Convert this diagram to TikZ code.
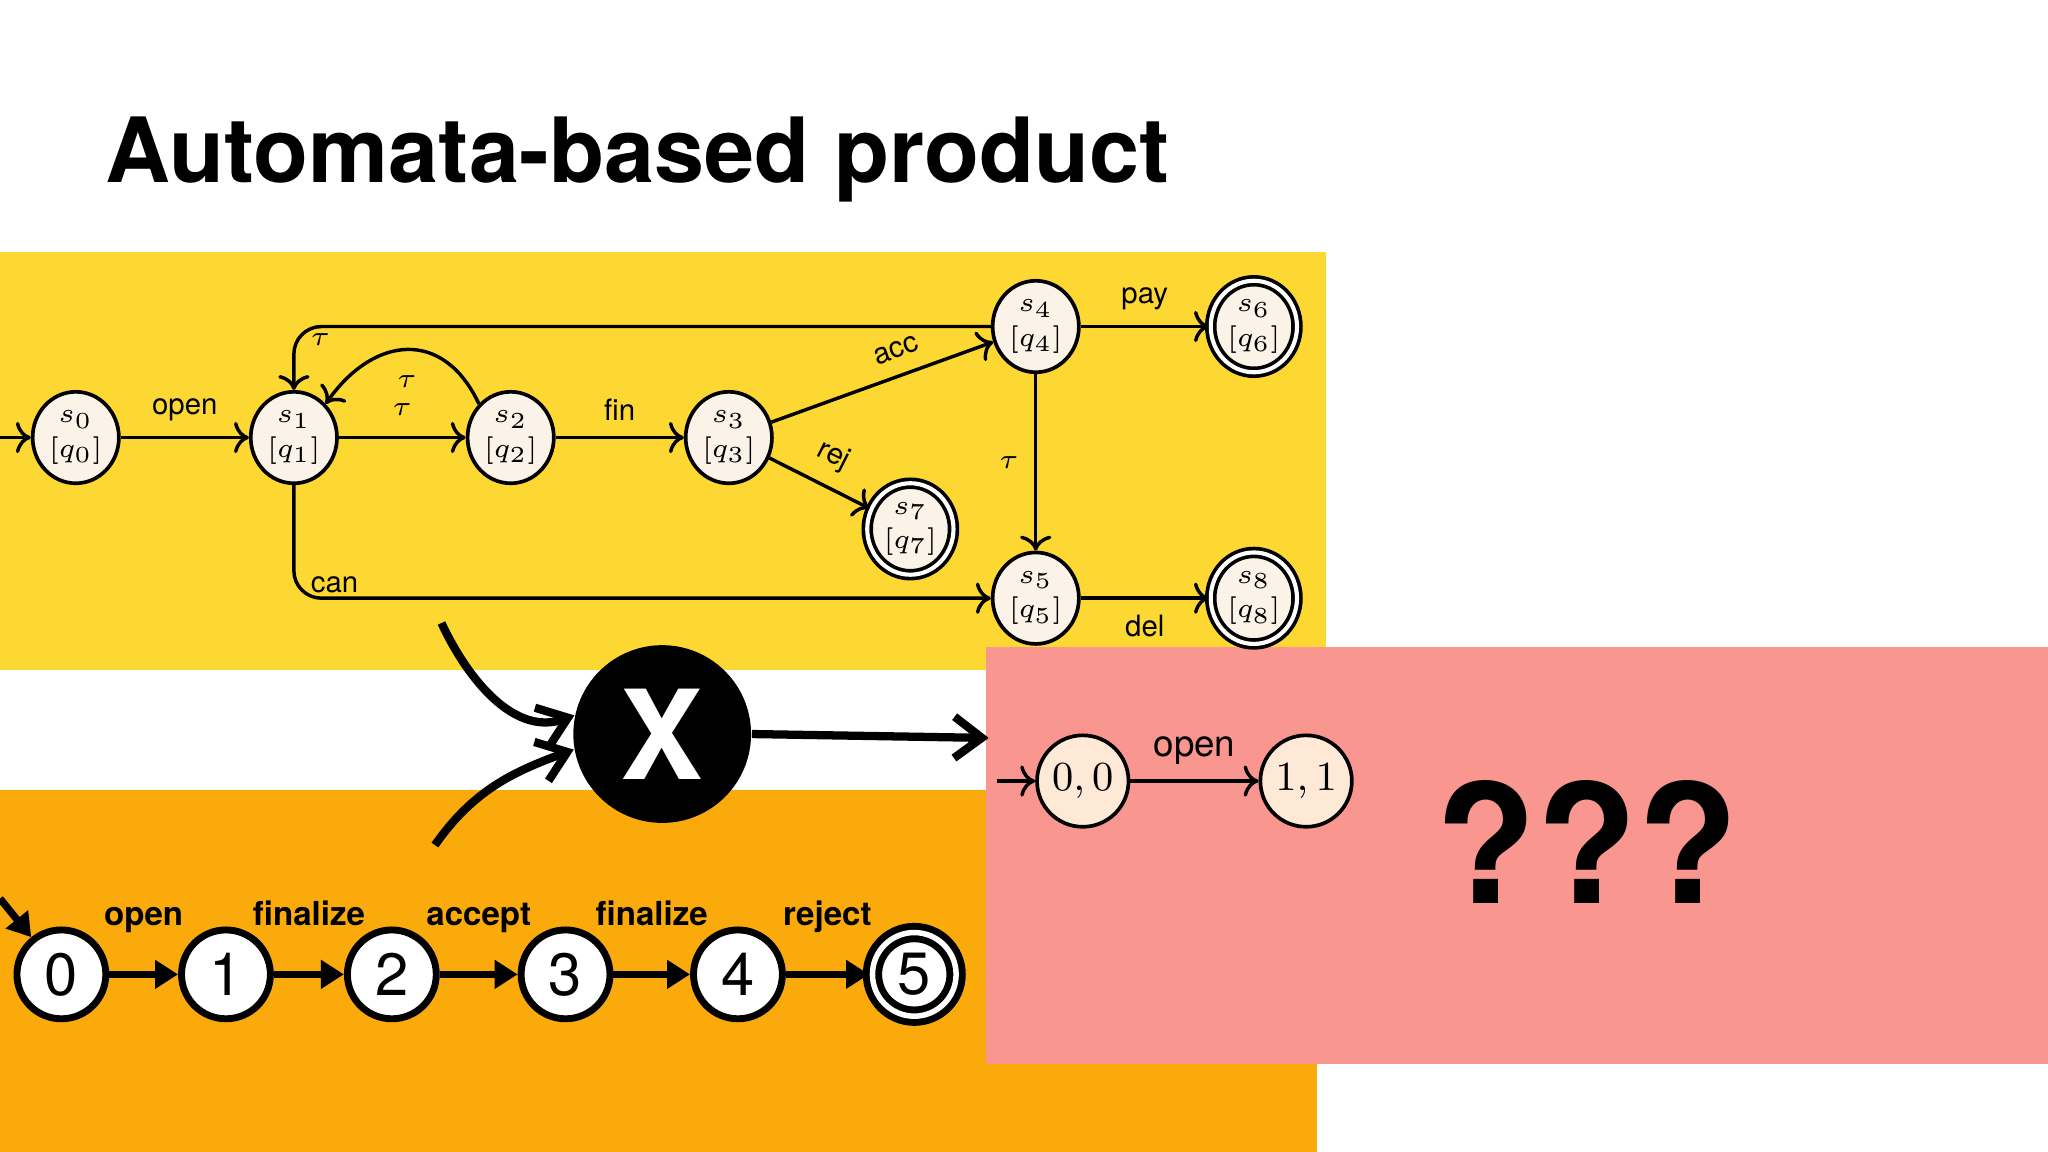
\documentclass[tikz,border=0pt]{standalone}
\usepackage{fontspec}
\setmainfont{TeX Gyre Heros}
\usetikzlibrary{positioning,arrows.meta,shapes.geometric}
\definecolor{ylw}{RGB}{253,216,50}
\definecolor{org}{RGB}{250,170,10}
\definecolor{pnk}{RGB}{248,150,143}
\definecolor{crm}{RGB}{251,242,232}
\begin{document}
\begin{tikzpicture}[
    x=0.01cm, y=-0.01cm,
    >=To,
    st/.style={ellipse, draw, line width=0.8pt, fill=crm, inner sep=0pt, minimum width=0.66cm, minimum height=0.7cm, align=center, font=\fontsize{6}{7.5}\selectfont},
    acc/.style={st, double, double distance=0.9pt},
    edge/.style={->, line width=0.75pt},
    lbl/.style={font=\fontsize{6.4}{7}\selectfont},
    ch/.style={circle, draw, line width=1.5pt, fill=white, inner sep=0pt, minimum size=0.68cm, font=\fontsize{13}{14}\selectfont},
    chacc/.style={ch, double, double distance=1.2pt, minimum size=0.64cm},
    chedge/.style={-{Triangle[length=5pt,width=6pt]}, line width=1.6pt},
    chlbl/.style={font=\bfseries\fontsize{7.2}{8}\selectfont, text height=1.6ex, text depth=0.3ex, above=5pt},
    big/.style={-{Straight Barb[length=6pt,width=9pt]}, line width=1.8pt}
]
\useasboundingbox (0,0) rectangle (1568,882);
\fill[white] (0,0) rectangle (1568,882);

\node[anchor=base west, inner sep=0pt, font=\bfseries\fontsize{19.6}{22}\selectfont] (title) at (80,140) {Automata-based product};

% backgrounds
\fill[ylw] (0,193) rectangle (1015,513);
\fill[org] (0,605) rectangle (1008,882);
\fill[pnk] (755,495) rectangle (1568,815);

% process automaton
\node[st] (s0) at (58,335) {$s_0$\\$[q_0]$};
\node[st] (s1) at (225,335) {$s_1$\\$[q_1]$};
\node[st] (s2) at (391,335) {$s_2$\\$[q_2]$};
\node[st] (s3) at (558,335) {$s_3$\\$[q_3]$};
\node[st] (s4) at (793,250) {$s_4$\\$[q_4]$};
\node[acc] (s6) at (960,250) {$s_6$\\$[q_6]$};
\node[acc] (s7) at (697,405) {$s_7$\\$[q_7]$};
\node[st] (s5) at (793,458) {$s_5$\\$[q_5]$};
\node[acc] (s8) at (960,458) {$s_8$\\$[q_8]$};
\coordinate (in0) at (0,335);

\draw[edge] (in0) -- (s0);
\draw[edge] (s0) -- node[lbl, above] {open} (s1);
\draw[edge] (s1) -- node[lbl, above=1pt] {$\tau$} (s2);
\draw[edge] (s2.north west) to[out=115, in=55, looseness=1.4] node[lbl, pos=0.5, below=2pt] {$\tau$} (s1.north east);
\draw[edge] (s2) -- node[lbl, above] {fin} (s3);
\draw[edge] (s3) -- node[lbl, above, sloped, pos=0.6] {acc} (s4);
\draw[edge] (s3) -- node[lbl, above, sloped, pos=0.5] {rej} (s7);
\draw[edge] (s4) -- node[lbl, above] {pay} (s6);
\draw[edge] (s4) -- node[lbl, left] {$\tau$} (s5);
\draw[edge] (s5) -- node[lbl, below] {del} (s8);
\draw[edge, rounded corners=6pt] (s4.west) -| node[lbl, pos=0.6, right] {$\tau$} (s1.north);
\draw[edge, rounded corners=6pt] (s1.south) |- node[lbl, pos=0.44, right] {can} (s5.west);

% product operator
\node[circle, fill=black, minimum size=1.36cm, text=white, font=\bfseries\fontsize{27}{28}\selectfont] (prod) at (507,562) {X};
\coordinate (fromtop) at (338,477);
\coordinate (frombot) at (333,647);
\coordinate (toright) at (757,565);
\draw[big] (fromtop) to[out=-65, in=200] (prod.168);
\draw[big] (frombot) to[out=55, in=200] (prod.190);
\draw[big] (prod.east) -- (toright);

% property automaton
\node[ch] (c0) at (47,746) {0};
\node[ch] (c1) at (173,746) {1};
\node[ch] (c2) at (300,746) {2};
\node[ch] (c3) at (433,746) {3};
\node[ch] (c4) at (565,746) {4};
\node[chacc] (c5) at (700,746) {5};
\coordinate (inc) at (0,688);
\draw[chedge] (inc) -- (c0);
\draw[chedge] (c0) -- node[chlbl] {open} (c1);
\draw[chedge] (c1) -- node[chlbl] {finalize} (c2);
\draw[chedge] (c2) -- node[chlbl] {accept} (c3);
\draw[chedge] (c3) -- node[chlbl] {finalize} (c4);
\draw[chedge] (c4) -- node[chlbl] {reject} (c5);

% result
\node[st, circle, minimum size=0.7cm, font=\fontsize{9}{10}\selectfont, fill=crm!80!orange!60] (p0) at (829,598) {$0,0$};
\node[st, circle, minimum size=0.7cm, font=\fontsize{9}{10}\selectfont, fill=crm!80!orange!60] (p1) at (1000,598) {$1,1$};
\coordinate (inp) at (763,598);
\draw[edge] (inp) -- (p0);
\draw[edge] (p0) -- node[above, font=\fontsize{8}{9}\selectfont] {open} (p1);
\node[font=\bfseries\fontsize{36}{40}\selectfont] (unk) at (1215,645) {???};
\end{tikzpicture}
\end{document}
